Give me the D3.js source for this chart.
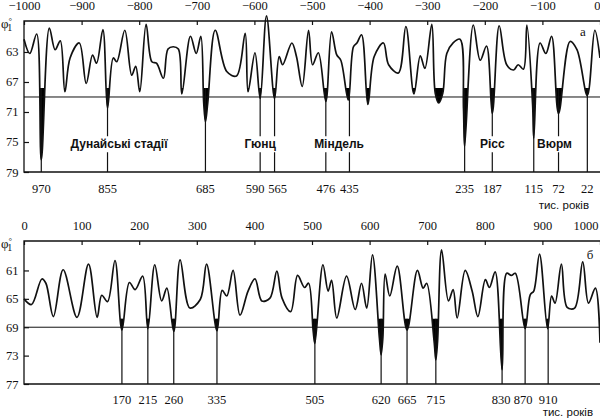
<!DOCTYPE html>
<html>
<head>
<meta charset="utf-8">
<script src="https://cdn.jsdelivr.net/npm/d3@7"></script>
<style>
  body { margin: 0; background: #fff; }
  svg { display: block; }
</style>
</head>
<body>
<svg id="chart" width="600" height="419"></svg>
<script>
// ---- data ----
// panel "а": past million years (thousand years before present)
var topYears = [-1000, -990, -978, -970, -956, -946, -937, -929, -920, -904, -892, -881, -874, -863, -855, -845, -839, -825, -813, -806,
  -799, -788, -778, -770, -758, -750, -741, -732, -726, -711, -701, -693, -688, -685, -681, -668, -648, -631, -616, -611, -599, -590,
  -579, -565, -557, -551, -535, -527, -517, -506, -499, -489, -476, -466, -457, -450, -437, -428, -422, -414, -403, -392,
  -376, -367, -350, -337, -323, -312, -304, -292, -286, -280, -273, -266, -255, -243, -237, -235, -220, -208, -197, -187, -175,
  -162, -150, -142, -133, -127, -117, -115, -104, -94, -84, -72, -52, -40, -22, -9, 0];
var topValues = [61.3, 63.2, 60.6, 77.4, 59.8, 62.7, 61.5, 68.3, 63.8, 61.8, 67.2, 63.4, 64.5, 60.0, 70.5, 63.8, 64.3, 60.1, 66.1, 64.9,
  68.3, 59.3, 64.3, 64.5, 66.5, 62.6, 62.3, 62.6, 68.6, 60.9, 63.2, 60.9, 69.8, 72.3, 69.8, 60.1, 65.6, 66.2, 60.5, 68.3, 63.1, 69.2,
  58.2, 69.2, 63.6, 64.7, 61.8, 63.6, 67.6, 60.1, 64.7, 63.1, 69.6, 60.3, 63.4, 64.1, 69.4, 62.3, 61.8, 60.7, 70.0, 63.6,
  61.8, 64.7, 65.8, 59.6, 68.6, 63.5, 65.2, 59.3, 68.5, 69.8, 68.5, 63.2, 61.8, 61.3, 70.5, 75.6, 59.4, 64.1, 62.2, 71.2, 59.5,
  64.7, 65.4, 64.7, 65.3, 59.4, 70.0, 74.5, 61.8, 63.2, 60.9, 71.2, 61.6, 62.7, 68.8, 60.1, 63.8];
var topMarks = [-970, -855, -685, -590, -565, -476, -435, -235, -187, -115, -72, -22];
var topStages = [
  { name: "Дунайські стадії", year: -835 },
  { name: "Гюнц", year: -590 },
  { name: "Міндель", year: -453 },
  { name: "Рісс", year: -187 },
  { name: "Вюрм", year: -79 }
];
var topXTicks = [-1000, -900, -800, -700, -600, -500, -400, -300, -200, -100, 0];
var topYTicks = [63, 67, 71, 75, 79];

// panel "б": next million years
var bottomYears = [0, 13, 31, 38, 51, 68, 92, 112, 127, 135, 145, 158, 170, 183, 193, 206, 215, 227, 239, 248,
  260, 271, 288, 306, 317, 335, 344, 352, 363, 375, 389, 401, 413, 427, 439, 448, 463, 475, 487, 494,
  502, 505, 519, 528, 534, 543, 560, 575, 586, 595, 605, 617, 620, 623, 627, 635, 648, 665, 683, 693, 699, 712, 715, 718, 725,
  737, 745, 752, 766, 778, 788, 801, 808, 818, 830, 838, 846, 853, 870, 879, 885, 895, 909, 916, 922,
  933, 943, 956, 970, 980, 992, 1000];
var bottomValues = [65.0, 65.8, 62.2, 62.8, 67.5, 60.9, 67.6, 60.1, 67.6, 64.5, 65.4, 59.6, 69.4, 62.7, 63.7, 61.8, 69.2, 60.2, 65.3, 63.5,
  69.6, 59.5, 66.3, 65.1, 60.1, 69.5, 63.8, 64.6, 61.0, 67.3, 63.9, 62.2, 65.3, 64.9, 61.1, 64.9, 66.8, 61.7, 63.4, 62.8,
  69.5, 71.3, 60.2, 63.9, 62.4, 67.7, 61.8, 66.5, 62.8, 66.3, 58.8, 70.5, 72.9, 70.5, 61.5, 64.6, 60.4, 69.4, 61.0, 63.5, 62.8, 71.0, 73.6, 71.0, 58.1,
  65.3, 63.7, 67.7, 61.0, 63.9, 67.5, 62.3, 63.4, 61.2, 75.0, 61.4, 61.7, 61.4, 69.2, 64.4, 63.9, 58.7, 69.2, 64.6, 65.6,
  60.1, 66.2, 66.3, 59.8, 65.6, 63.5, 71.2];
var bottomMarks = [170, 215, 260, 335, 505, 620, 665, 715, 830, 870, 910];
var bottomXTicks = [0, 100, 200, 300, 400, 500, 600, 700, 800, 900, 1000];
var bottomYTicks = [61, 65, 69, 73, 77];

// small sideways nudges of crowded mark labels (px)
var labelNudge = { "-590": -5, "-565": 3, "830": -1, "870": -2 };

var baseLevel = 69;   // horizontal reference line
var fillLevel = 67.8; // dips below this are blacked in
var unitLabel = "тис. років";

var svg = d3.select("#chart");
var serif = "'Liberation Serif', 'Times New Roman', serif";
var sans = "'Liberation Sans', Arial, sans-serif";

// draws one panel: frame, axes, curve, black dips, marker lines and labels
function drawPanel(cfg) {
    var x = d3.scaleLinear().domain(cfg.xDomain).range([24, 600]);
    var y = d3.scaleLinear().domain(cfg.yDomain).range([cfg.top, cfg.bottom]);
    var data = cfg.years.map(function(d, i) { return { t: d, v: cfg.values[i] }; });
    var g = svg.append("g");

    var clipId = "clip-" + cfg.id;
    g.append("clipPath").attr("id", clipId)
        .append("rect")
        .attr("x", x(cfg.xDomain[0]))
        .attr("y", y(fillLevel))
        .attr("width", x(cfg.fillEnd) - x(cfg.xDomain[0]))
        .attr("height", cfg.bottom - y(fillLevel));

    var curve = d3.curveCatmullRom.alpha(0.5);

    // black fill of the deep dips: area from panel top down to the curve, kept only below fillLevel
    g.append("path")
        .datum(data)
        .attr("clip-path", "url(#" + clipId + ")")
        .attr("fill", "#000")
        .attr("d", d3.area()
            .x(function(d) { return x(d.t); })
            .y0(cfg.top)
            .y1(function(d) { return y(d.v); })
            .curve(curve));

    // frame (top, left, bottom)
    var x0 = x(cfg.xDomain[0]), x1 = x(cfg.xDomain[1]);
    g.append("path")
        .attr("fill", "none").attr("stroke", "#111").attr("stroke-width", 1.3)
        .attr("d", "M" + x1 + "," + cfg.top + "H" + x0 + "V" + cfg.bottom + "H" + x1);

    // top axis
    var ax = g.append("g")
        .attr("transform", "translate(0," + cfg.top + ")")
        .call(d3.axisTop(x).tickValues(cfg.xTicks).tickSize(-4).tickPadding(11).tickFormat(d3.format("d")));
    ax.select(".domain").remove();
    ax.selectAll("line").attr("stroke", "#111").attr("stroke-width", 1.2);
    ax.selectAll("text").attr("font-family", serif).attr("font-size", 12.5).attr("fill", "#111");
    // last label is flush with the right edge
    ax.selectAll(".tick").filter(function(d) { return d === cfg.xDomain[1]; })
        .select("text").attr("text-anchor", "end").attr("dx", cfg.lastTickDx);

    // left axis
    var ay = g.append("g")
        .attr("transform", "translate(" + x0 + ",0)")
        .call(d3.axisLeft(y).tickValues(cfg.yTicks).tickSize(-5).tickPadding(5.5));
    ay.select(".domain").remove();
    ay.selectAll("line").attr("stroke", "#111").attr("stroke-width", 1.2);
    ay.selectAll("text").attr("font-family", serif).attr("font-size", 12.5).attr("fill", "#111");

    // reference line
    g.append("line")
        .attr("x1", x0).attr("x2", x1)
        .attr("y1", y(baseLevel)).attr("y2", y(baseLevel))
        .attr("stroke", "#111").attr("stroke-width", 1);

    // marker lines from the dips down to the frame
    g.selectAll(".mark").data(cfg.marks).enter().append("line")
        .attr("x1", function(d) { return x(d); }).attr("x2", function(d) { return x(d); })
        .attr("y1", y(fillLevel)).attr("y2", cfg.bottom)
        .attr("stroke", "#111").attr("stroke-width", 1.2);

    g.selectAll(".mark-label").data(cfg.marks).enter().append("text")
        .attr("x", function(d) { return x(d) + (labelNudge[d] || 0); })
        .attr("y", cfg.bottom + cfg.labelGap)
        .attr("text-anchor", "middle")
        .attr("font-family", serif).attr("font-size", 12.5).attr("fill", "#111")
        .text(function(d) { return Math.abs(d); });

    // the curve itself
    g.append("path")
        .datum(data)
        .attr("fill", "none").attr("stroke", "#111").attr("stroke-width", 1.7)
        .attr("stroke-linejoin", "round")
        .attr("d", d3.line()
            .x(function(d) { return x(d.t); })
            .y(function(d) { return y(d.v); })
            .curve(curve));

    // stage names sit on white patches over the marker lines
    (cfg.stages || []).forEach(function(s) {
        var t = g.append("text")
            .attr("x", x(s.year)).attr("y", y(cfg.stageLevel))
            .attr("text-anchor", "middle").attr("dominant-baseline", "central")
            .attr("font-family", sans).attr("font-weight", "bold").attr("font-size", 12)
            .attr("fill", "#111")
            .text(s.name);
        var b = t.node().getBBox();
        g.insert("rect", function() { return t.node(); })
            .attr("x", b.x - 2).attr("y", b.y - 1)
            .attr("width", b.width + 4).attr("height", b.height + 2)
            .attr("fill", "#fff");
    });

    // φ°1 label
    var phi = g.append("text")
        .attr("x", 1).attr("y", cfg.top + 7)
        .attr("font-family", serif).attr("font-size", 13).attr("fill", "#111");
    phi.append("tspan").text("φ");
    phi.append("tspan").attr("font-size", 9).attr("dy", -4).text("°");
    phi.append("tspan").attr("font-size", 10).attr("dx", -5).attr("dy", 7).text("1");

    // panel letter
    g.append("text")
        .attr("x", cfg.letterX).attr("y", cfg.top + cfg.letterDy)
        .attr("text-anchor", "middle")
        .attr("font-family", serif).attr("font-size", 13).attr("fill", "#111")
        .text(cfg.letter);

    // units
    g.append("text")
        .attr("x", cfg.unitX).attr("y", cfg.bottom + cfg.unitGap)
        .attr("text-anchor", "end")
        .attr("font-family", sans).attr("font-size", 11.5).attr("fill", "#111")
        .text(unitLabel);
}

drawPanel({
    id: "a", letter: "а", letterX: 583, letterDy: 15,
    years: topYears, values: topValues, marks: topMarks, stages: topStages, stageLevel: 75.3,
    xDomain: [-1000, 0], yDomain: [58.87, 79], top: 21, bottom: 172, fillEnd: 0, lastTickDx: 0,
    xTicks: topXTicks, yTicks: topYTicks, labelGap: 21, unitX: 589, unitGap: 37
});

drawPanel({
    id: "b", letter: "б", letterX: 590, letterDy: 18,
    years: bottomYears, values: bottomValues, marks: bottomMarks,
    xDomain: [0, 1000], yDomain: [56.85, 77], top: 241, bottom: 384, fillEnd: 992, lastTickDx: -2,
    xTicks: bottomXTicks, yTicks: bottomYTicks, labelGap: 20, unitX: 593, unitGap: 32
});
</script>
</body>
</html>
